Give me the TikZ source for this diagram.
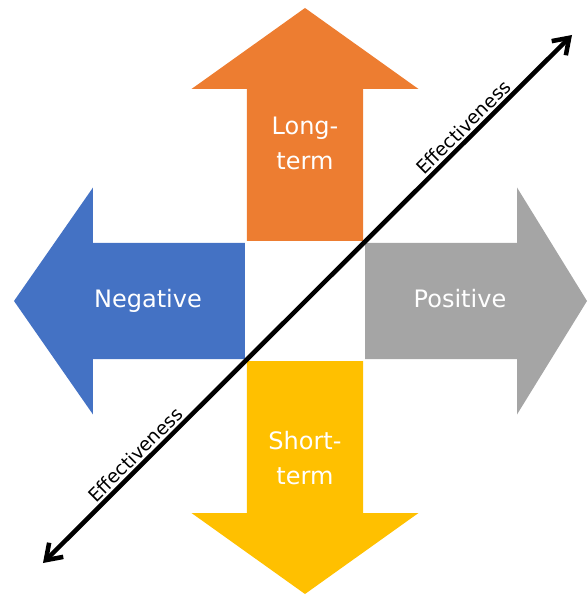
\documentclass[tikz,border=0pt]{standalone}
\usepackage{fontspec}
\setmainfont{DejaVu Sans}
\usepackage{xcolor}
\usetikzlibrary{arrows.meta}

\definecolor{posgray}{HTML}{A5A5A5}
\definecolor{longorange}{HTML}{ED7D31}
\definecolor{negblue}{HTML}{4472C4}
\definecolor{shortyellow}{HTML}{FFC000}

\begin{document}
\begin{tikzpicture}[x=0.75pt, y=0.75pt,
  armtext/.style={text=white, font=\fontsize{18}{26.25}\selectfont, align=center},
  axistext/.style={font=\fontsize{14}{16}\selectfont, sloped, above, inner sep=1.5pt}]
\useasboundingbox (-305,-295) rectangle (282,301);

% Block arrows
\foreach \rot/\col/\tip in {0/posgray/282, 90/longorange/293, 180/negblue/291, 270/shortyellow/293} {
  \fill[\col, rotate=\rot] (60,-58) -- (212,-58) -- (212,-113.5) -- (\tip,0) -- (212,113.5) -- (212,58) -- (60,58) -- cycle;
}

% Labels
\node[armtext, anchor=base] (neg) at (-157,-6) {Negative};
\node[armtext, anchor=base] (pos) at (155,-6) {Positive};
\node[armtext] (long) at (0,158) {Long-\\term};
\node[armtext] (short) at (0,-157) {Short-\\term};

% Effectiveness axis
\coordinate (low) at (-262,-262);
\coordinate (high) at (267,266);
\draw[line width=3.4pt, {Straight Barb[length=11pt,width=15pt]}-{Straight Barb[length=11pt,width=15pt]}] (low) -- (high)
  node[axistext, pos=0.19] (efflow) {Effectiveness}
  node[axistext, pos=0.81] (effhigh) {Effectiveness};
\end{tikzpicture}
\end{document}
